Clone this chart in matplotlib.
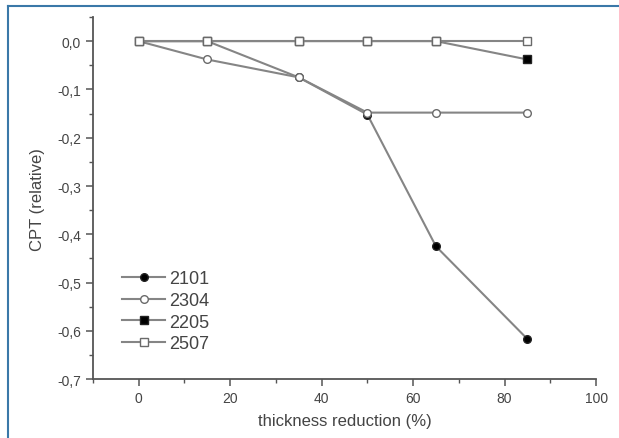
import matplotlib
matplotlib.use("Agg")
import matplotlib.pyplot as plt
from matplotlib.ticker import MultipleLocator, FuncFormatter

plt.rcParams['font.family'] = ['Liberation Sans', 'DejaVu Sans']

# 数据
thickness = [0, 15, 35, 50, 65, 85]
cpt_2101 = [0.0, 0.0, -0.075, -0.152, -0.425, -0.617]
cpt_2304 = [0.0, -0.038, -0.075, -0.148, -0.148, -0.148]
cpt_2205 = [0.0, 0.0, 0.0, 0.0, 0.0, -0.038]
cpt_2507 = [0.0, 0.0, 0.0, 0.0, 0.0, 0.0]

line_c = '#858585'
edge_c = '#6a6a6a'

fig = plt.figure(figsize=(6.19, 4.39), dpi=100)
ax = fig.add_axes([0.150, 0.134, 0.813, 0.825])

ax.plot(thickness, cpt_2101, color=line_c, lw=1.5, marker='o', ms=5.5,
        mfc='black', mec='#222222', label='2101', zorder=3)
ax.plot(thickness, cpt_2304, color=line_c, lw=1.5, marker='o', ms=5.5,
        mfc='white', mec=edge_c, label='2304', zorder=3)
ax.plot(thickness, cpt_2205, color=line_c, lw=1.5, marker='s', ms=5.5,
        mfc='black', mec='#222222', label='2205', zorder=3)
ax.plot(thickness, cpt_2507, color=line_c, lw=1.5, marker='s', ms=5.5,
        mfc='white', mec=edge_c, label='2507', zorder=4)

ax.set_xlim(-10, 100)
ax.set_ylim(-0.7, 0.05)
ax.xaxis.set_major_locator(MultipleLocator(20))
ax.xaxis.set_minor_locator(MultipleLocator(10))
ax.yaxis.set_major_locator(MultipleLocator(0.1))
ax.yaxis.set_minor_locator(MultipleLocator(0.05))
ax.yaxis.set_major_formatter(FuncFormatter(lambda v, p: f"{v:.1f}".replace('.', ',').replace('-0,0', '0,0')))

for s in ['top', 'right']:
    ax.spines[s].set_visible(False)
for s in ['left', 'bottom']:
    ax.spines[s].set_color('#555555')
    ax.spines[s].set_linewidth(1.3)

ax.tick_params(which='major', length=5, width=1.1, color='#555555',
               labelsize=10, labelcolor='#444444')
ax.tick_params(which='minor', length=3, width=1.0, color='#555555')

ax.set_xlabel('thickness reduction (%)', fontsize=12, color='#444444', labelpad=6)
ax.set_ylabel('CPT (relative)', fontsize=12, color='#444444', labelpad=9)

leg = ax.legend(loc='upper left', bbox_to_anchor=(0.04, 0.325), frameon=False,
                fontsize=13, handlelength=2.4, handletextpad=0.2,
                labelspacing=0.25, borderpad=0)
for t in leg.get_texts():
    t.set_color('#444444')

# 外框（上、左蓝线）
fig.add_artist(plt.Line2D([0.013, 1.0], [0.983, 0.983], color='#3a78a8', lw=1.5,
                          transform=fig.transFigure))
fig.add_artist(plt.Line2D([0.013, 0.013], [0.0, 0.983], color='#3a78a8', lw=1.5,
                          transform=fig.transFigure))

fig.savefig('out.png', dpi=100)
